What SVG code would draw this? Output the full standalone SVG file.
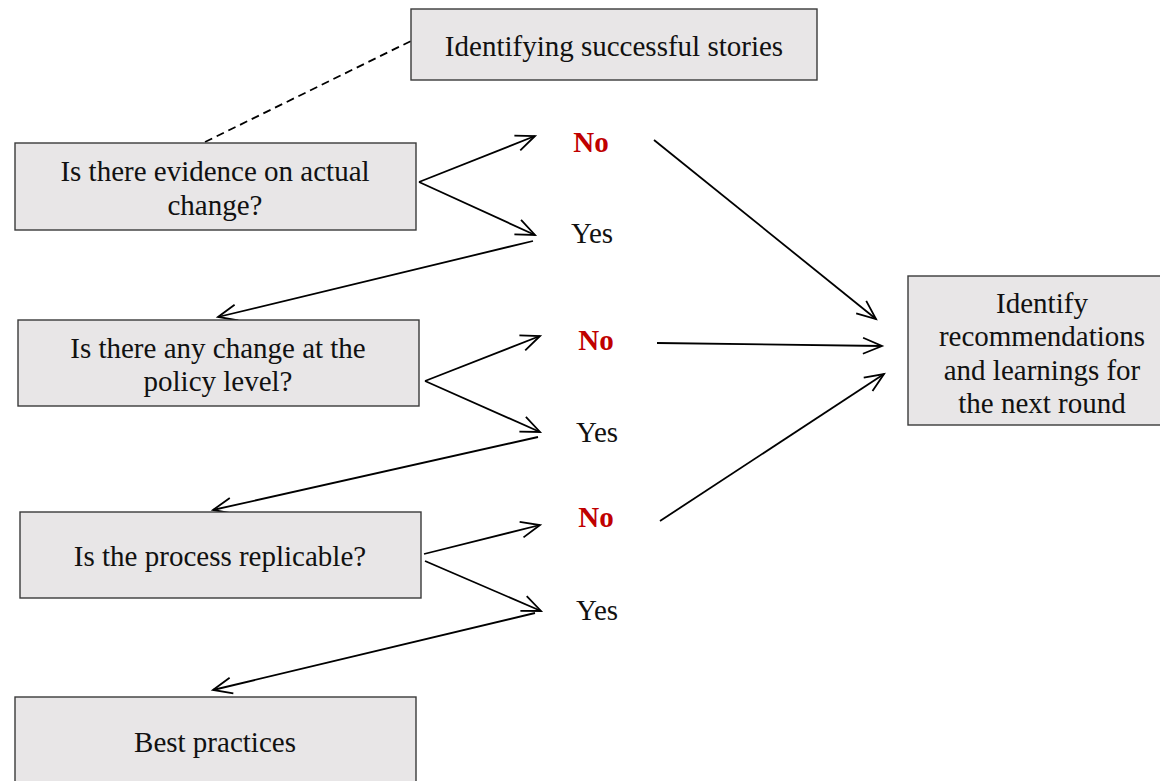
<svg xmlns="http://www.w3.org/2000/svg" width="1160" height="781" viewBox="0 0 1160 781">
  <style>
    .box { fill: #e8e6e7; stroke: #3a3a3a; stroke-width: 1.4; }
    .txt { font-family: "Liberation Serif", "Times New Roman", serif; font-size: 29px; fill: #111; text-anchor: middle; }
    .no { font-family: "Liberation Serif", "Times New Roman", serif; font-size: 29px; font-weight: bold; fill: #c00000; text-anchor: middle; }
    .yes { font-family: "Liberation Serif", "Times New Roman", serif; font-size: 29px; fill: #111; text-anchor: middle; }
    .arrow { stroke: #000; stroke-width: 1.8; fill: none; marker-end: url(#open); }
    .dash { stroke: #000; stroke-width: 1.8; fill: none; stroke-dasharray: 8 5; }
  </style>
  <defs>
    <marker id="open" markerUnits="userSpaceOnUse" markerWidth="24" markerHeight="24" viewBox="0 0 24 24" refX="21" refY="12" orient="auto">
      <path d="M2,4 L21,12 L2,20" fill="none" stroke="#000" stroke-width="1.8"/>
    </marker>
  </defs>
  <rect width="1160" height="781" fill="#ffffff"/>

  <g id="connectors">
    <line class="dash" x1="205" y1="142" x2="411" y2="41"/>
    <!-- question 1 -->
    <line class="arrow" x1="419" y1="182" x2="535" y2="136"/>
    <line class="arrow" x1="419" y1="182" x2="535" y2="235"/>
    <line class="arrow" x1="533" y1="241" x2="218" y2="317"/>
    <line class="arrow" x1="654" y1="140" x2="876" y2="319"/>
    <!-- question 2 -->
    <line class="arrow" x1="425" y1="381" x2="540" y2="336"/>
    <line class="arrow" x1="425" y1="381" x2="540" y2="432"/>
    <line class="arrow" x1="538" y1="437" x2="213" y2="510"/>
    <line class="arrow" x1="657" y1="343" x2="882" y2="346"/>
    <!-- question 3 -->
    <line class="arrow" x1="424" y1="554" x2="540" y2="525"/>
    <line class="arrow" x1="425" y1="561" x2="541" y2="611"/>
    <line class="arrow" x1="535" y1="613" x2="213" y2="690"/>
    <line class="arrow" x1="660" y1="521" x2="884" y2="374"/>
  </g>

  <g id="successful-stories">
    <rect class="box" x="411" y="9" width="406" height="71"/>
    <text class="txt" x="614" y="56">Identifying successful stories</text>
  </g>

  <g id="evidence">
    <rect class="box" x="15" y="143" width="401" height="87"/>
    <text class="txt" x="215" y="181">Is there evidence on actual</text>
    <text class="txt" x="215" y="215">change?</text>
  </g>

  <g id="policy">
    <rect class="box" x="18" y="320" width="401" height="86"/>
    <text class="txt" x="218" y="358">Is there any change at the</text>
    <text class="txt" x="218" y="391">policy level?</text>
  </g>

  <g id="replicable">
    <rect class="box" x="20" y="512" width="401" height="86"/>
    <text class="txt" x="220" y="566">Is the process replicable?</text>
  </g>

  <g id="best-practices">
    <rect class="box" x="15" y="697" width="401" height="90"/>
    <text class="txt" x="215" y="752">Best practices</text>
  </g>

  <g id="recommendations">
    <rect class="box" x="908" y="276" width="256" height="149"/>
    <text class="txt" x="1042" y="313">Identify</text>
    <text class="txt" x="1042" y="346">recommendations</text>
    <text class="txt" x="1042" y="380">and learnings for</text>
    <text class="txt" x="1042" y="413">the next round</text>
  </g>

  <g id="labels">
    <text class="no" x="591" y="152">No</text>
    <text class="yes" x="592" y="243">Yes</text>
    <text class="no" x="596" y="350">No</text>
    <text class="yes" x="597" y="442">Yes</text>
    <text class="no" x="596" y="527">No</text>
    <text class="yes" x="597" y="620">Yes</text>
  </g>
</svg>
